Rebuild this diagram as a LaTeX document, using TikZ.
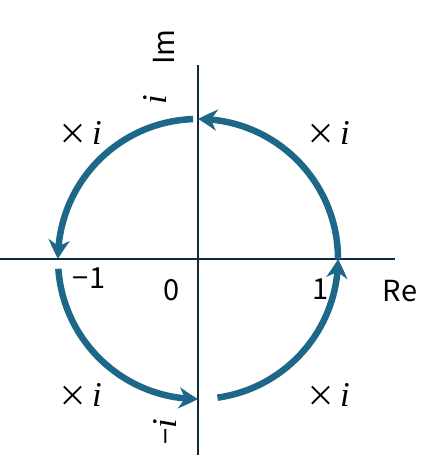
\documentclass[tikz,border=0pt]{standalone}
\usepackage{fontspec}
\setmainfont{Noto Sans CJK JP}
\newfontfamily\imagfont[Scale=1.2]{Liberation Serif}
\newcommand{\im}{{\imagfont\itshape i}}
\usepackage{tikz}
\usetikzlibrary{arrows.meta,bending}
\definecolor{arccol}{HTML}{1D6789}
\definecolor{axiscol}{HTML}{0E2A3C}
\tikzset{axis/.style={draw=axiscol,line width=2.6pt},
    turn/.style={draw=arccol,line width=6.5pt,
        -{Stealth[length=19pt,width=21pt,inset=6pt,bend]}},
    lbl/.style={font=\fontsize{29}{34}\selectfont,inner sep=0pt},
    x=1pt,y=1pt}

\begin{document}
\begin{tikzpicture}
\useasboundingbox (0,0) rectangle (447,474);
\coordinate (O) at (198,215);
\coordinate (xl) at (0,215);
\coordinate (xr) at (395,215);
\coordinate (yb) at (198,19);
\coordinate (yt) at (198,409);
\draw[axis] (xl) -- (xr);
\draw[axis] (yb) -- (yt);
% quarter turns
\draw[turn] ([shift={(0:140)}]O) arc[start angle=0,end angle=90,radius=140];
\draw[turn] ([shift={(92:140)}]O) arc[start angle=92,end angle=180,radius=140];
\draw[turn] ([shift={(184:140)}]O) arc[start angle=184,end angle=270,radius=140];
\draw[turn] ([shift={(278:140)}]O) arc[start angle=278,end angle=360,radius=140];
% labels
\node[lbl,rotate=90] (imlbl) at (164,427) {Im};
\node[lbl] (relbl) at (400,183) {Re};
\node[lbl,rotate=90] (pi) at (155,374) {\im};
\node[lbl,rotate=90] (mi) at (165,42) {−\im};
\node[lbl] (m1) at (89,196) {−1};
\node[lbl] (zero) at (172,184) {0};
\node[lbl] (one) at (321,185) {1};
\node[lbl] (q1) at (328,341) {×\,\im};
\node[lbl] (q2) at (80,341) {×\,\im};
\node[lbl] (q3) at (80,79) {×\,\im};
\node[lbl] (q4) at (328,79) {×\,\im};
\end{tikzpicture}
\end{document}
